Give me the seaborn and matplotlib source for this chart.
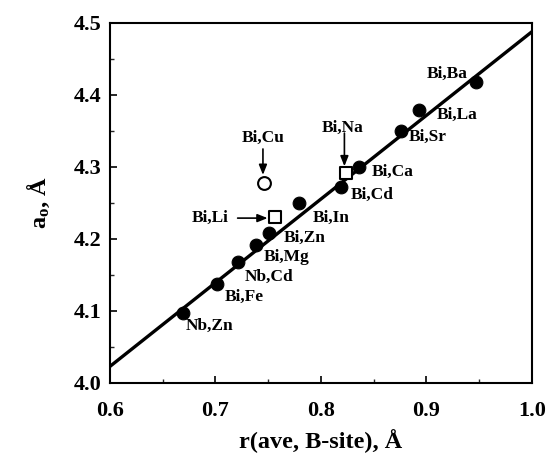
import matplotlib
matplotlib.use("Agg")
import matplotlib.pyplot as plt
import seaborn as sns
import pandas as pd
from matplotlib.ticker import MultipleLocator

sns.set_theme(style="white")
plt.rcParams['font.family'] = ['Liberation Serif', 'DejaVu Serif']
plt.rcParams['font.weight'] = 'bold'
plt.rcParams['mathtext.fontset'] = 'custom'
plt.rcParams['mathtext.rm'] = 'Liberation Serif:bold'
plt.rcParams['mathtext.it'] = 'Liberation Serif:bold'

# filled points (fit set)
filled_names = ["Nb,Zn", "Bi,Fe", "Nb,Cd", "Bi,Mg", "Bi,Zn", "Bi,In", "Bi,Cd",
                "Bi,Ca", "Bi,Sr", "Bi,La", "Bi,Ba"]
filled_r = [0.669, 0.7015, 0.7214, 0.738, 0.7507, 0.779, 0.8194,
            0.836, 0.8758, 0.893, 0.9467]
filled_a = [4.097, 4.138, 4.168, 4.192, 4.208, 4.250, 4.272,
            4.300, 4.350, 4.379, 4.4185]

# open circle
circle_names = ["Bi,Cu"]
circle_r = [0.7456]
circle_a = [4.278]

# open squares
square_names = ["Bi,Li", "Bi,Na"]
square_r = [0.7563, 0.8238]
square_a = [4.231, 4.292]

# fitted line
fit_r = [0.6, 1.0]
fit_a = [4.023, 4.488]

# label positions (centres)
label_names = ["Nb,Zn", "Bi,Fe", "Nb,Cd", "Bi,Mg", "Bi,Zn", "Bi,In", "Bi,Cd",
               "Bi,Ca", "Bi,Sr", "Bi,La", "Bi,Ba", "Bi,Cu", "Bi,Li", "Bi,Na"]
label_x = [0.6946, 0.7277, 0.7506, 0.7671, 0.7844, 0.8096, 0.849,
           0.868, 0.901, 0.9294, 0.920, 0.745, 0.6946, 0.8206]
label_y = [4.080, 4.120, 4.148, 4.175, 4.201, 4.229, 4.261,
           4.293, 4.342, 4.372, 4.430, 4.340, 4.229, 4.355]

x_ticks = [0.6, 0.7, 0.8, 0.9, 1.0]
y_ticks = [4.0, 4.1, 4.2, 4.3, 4.4, 4.5]

fig = plt.figure(figsize=(5.47, 4.58), dpi=100)
ax = fig.add_axes([0.201, 0.1638, 0.7716, 0.786])

df_fit = pd.DataFrame({"r": fit_r, "a": fit_a})
sns.lineplot(data=df_fit, x="r", y="a", ax=ax, color="black", linewidth=2.4,
             zorder=2)

df_f = pd.DataFrame({"r": filled_r, "a": filled_a})
sns.scatterplot(data=df_f, x="r", y="a", ax=ax, color="black", s=85,
                edgecolor="black", zorder=3)

df_c = pd.DataFrame({"r": circle_r, "a": circle_a})
sns.scatterplot(data=df_c, x="r", y="a", ax=ax, marker="o", s=85,
                facecolor="white", edgecolor="black", linewidth=1.5, zorder=3)

df_s = pd.DataFrame({"r": square_r, "a": square_a})
sns.scatterplot(data=df_s, x="r", y="a", ax=ax, marker="s", s=75,
                facecolor="white", edgecolor="black", linewidth=1.5, zorder=4)

for n, x, y in zip(label_names, label_x, label_y):
    ax.text(x, y, n, ha="center", va="center", fontsize=12.5,
            fontweight="bold", color="black")

arrow_kw = dict(arrowstyle="-|>,head_length=0.5,head_width=0.2",
                color="black", lw=1.2, shrinkA=0, shrinkB=0)
ax.annotate("", xy=(0.745, 4.289), xytext=(0.745, 4.325), arrowprops=arrow_kw)
ax.annotate("", xy=(0.8222, 4.301), xytext=(0.8222, 4.347), arrowprops=arrow_kw)
ax.annotate("", xy=(0.7494, 4.229), xytext=(0.721, 4.229), arrowprops=arrow_kw)

ax.set_xlim(0.6, 1.0)
ax.set_ylim(4.0, 4.5)
ax.set_xticks(x_ticks)
ax.set_yticks(y_ticks)
ax.set_xticklabels([f"{v:.1f}" for v in x_ticks])
ax.set_yticklabels([f"{v:.1f}" for v in y_ticks])
ax.xaxis.set_minor_locator(MultipleLocator(0.05))
ax.yaxis.set_minor_locator(MultipleLocator(0.05))
ax.tick_params(axis="both", which="major", direction="in", length=5, width=1.2,
               labelsize=16, color="black", labelcolor="black",
               bottom=True, left=True)
ax.tick_params(axis="x", which="major", pad=13)
ax.tick_params(axis="y", which="major", pad=6)
ax.tick_params(axis="both", which="minor", direction="in", length=3, width=1,
               bottom=True, left=True)
for lab in ax.get_xticklabels() + ax.get_yticklabels():
    lab.set_fontweight("bold")
for sp in ax.spines.values():
    sp.set_color("black")
    sp.set_linewidth(1.5)

ax.set_xlabel("r(ave, B-site), Å", fontsize=17.5, fontweight="bold",
              color="black", labelpad=6)
ax.set_ylabel(r"a$_\mathregular{o}$, Å", fontsize=17.5, fontweight="bold",
              color="black", labelpad=16)

fig.savefig("out.png", dpi=100, facecolor="white")
